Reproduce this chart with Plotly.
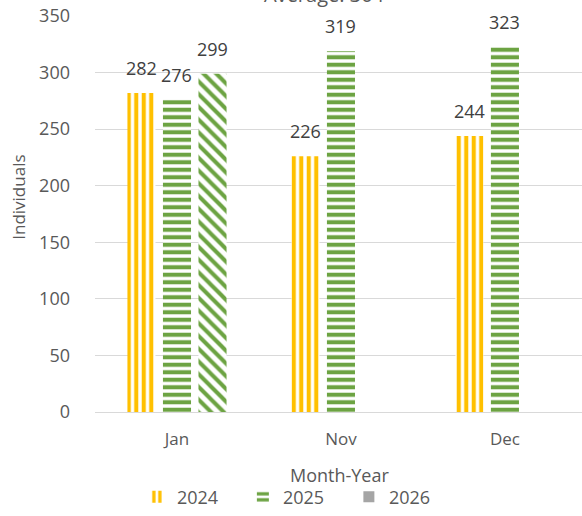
import plotly.graph_objects as go

categories = ["Jan", "Nov", "Dec"]
values_2024 = [282, 226, 244]
values_2025 = [276, 319, 323]
values_2026 = [299, None, None]
series_names = ["2024", "2025", "2026"]
title_text = "Average: 304"
x_title = "Month-Year"
y_title = "Individuals"

YELLOW = "#FFC000"
GREEN = "#6CA342"
GREY = "#A5A5A5"
TXT = "#595959"
LBL = "#404040"
FONT = "Open Sans"

BARGAP = 0.35
N_SLOTS = 3

fig = go.Figure()

def pat(shape, color, size, solidity):
    return dict(shape=shape, fgcolor=color, bgcolor="white", fgopacity=1,
                size=size, solidity=solidity, fillmode="overlay")

fig.add_trace(go.Bar(
    name=series_names[0], x=categories, y=values_2024, hoverinfo="skip",
    marker=dict(color="white", line=dict(width=0), pattern=pat("|", YELLOW, 7.5, 0.55)),
))
fig.add_trace(go.Bar(
    name=series_names[1], x=categories, y=values_2025, hoverinfo="skip",
    marker=dict(color="white", line=dict(width=0), pattern=pat("-", GREEN, 7.5, 0.55)),
))
fig.add_trace(go.Bar(
    name=series_names[2], x=categories, y=values_2026, showlegend=False, hoverinfo="skip",
    marker=dict(color="white", line=dict(width=0), pattern=pat("\\", GREEN, 9, 0.45)),
))
# legend-only entry for 2026 (grey square)
fig.add_trace(go.Scatter(
    name=series_names[2], x=[None], y=[None], mode="markers",
    marker=dict(symbol="square", size=11, color=GREY),
))

# data labels
slot = (1 - BARGAP) / N_SLOTS
annotations = []
for k, vals in enumerate([values_2024, values_2025, values_2026]):
    off = (k - 1) * slot
    for i, v in enumerate(vals):
        if v is None:
            continue
        annotations.append(dict(
            x=i + off, y=v, xref="x", yref="y", text=str(v), showarrow=False,
            yanchor="bottom", xanchor="center", yshift=11,
            font=dict(family=FONT, size=18, color=LBL),
        ))

annotations.append(dict(
    x=0.472, y=1.016, xref="paper", yref="paper", text=title_text,
    showarrow=False, yanchor="bottom", xanchor="center",
    font=dict(family=FONT, size=20, color=TXT),
))
annotations.append(dict(
    x=-0.156, y=0.541, xref="paper", yref="paper", text=y_title, textangle=-90,
    showarrow=False, yanchor="middle", xanchor="center",
    font=dict(family=FONT, size=17, color=TXT),
))
annotations.append(dict(
    x=0.503, y=-0.16, xref="paper", yref="paper", text=x_title,
    showarrow=False, yanchor="middle", xanchor="center",
    font=dict(family=FONT, size=18, color=TXT),
))

fig.update_layout(
    width=582, height=516,
    margin=dict(l=95, r=0, t=16, b=95),
    paper_bgcolor="white", plot_bgcolor="white",
    barmode="group", bargap=BARGAP, bargroupgap=0.21,
    font=dict(family=FONT, size=18, color=TXT),
    annotations=annotations,
    showlegend=True,
    hovermode=False,
    legend=dict(orientation="h", x=0.086, xanchor="left", y=-0.215,
                yanchor="middle", font=dict(family=FONT, size=18, color=TXT),
                itemwidth=30, entrywidth=61, bgcolor="rgba(0,0,0,0)"),
    xaxis=dict(
        range=[-0.5, 2.47], showgrid=False, showline=True, linecolor="#D9D9D9",
        linewidth=1, ticks="", tickfont=dict(family=FONT, size=17, color=TXT),
        ticklabelstandoff=12, automargin=False,
    ),
    yaxis=dict(
        range=[0, 350], dtick=50, showgrid=True, gridcolor="#D9D9D9",
        gridwidth=1, zeroline=False, ticks="", automargin=False,
        tickfont=dict(family=FONT, size=18, color=TXT), ticklabelstandoff=24,
    ),
)

fig.write_html("out.html", config={"displayModeBar": False},
               post_script="document.body.style.margin='0';")
